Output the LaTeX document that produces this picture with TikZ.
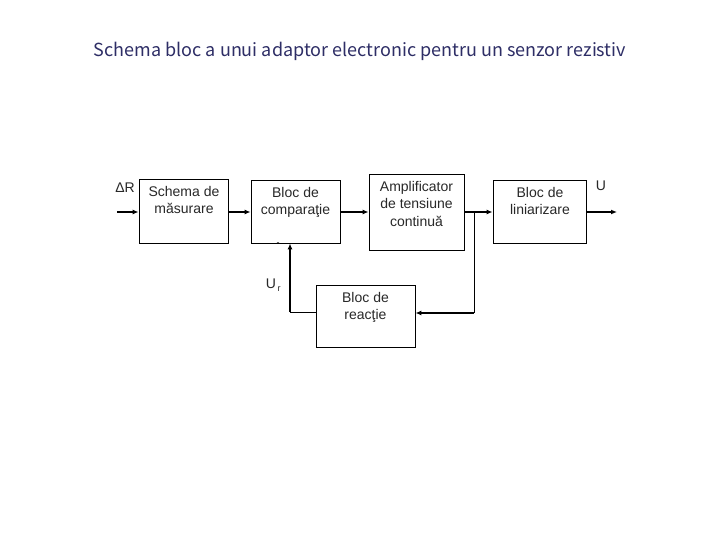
\documentclass[tikz,border=0pt]{standalone}
\usepackage{fontspec}
\setmainfont{Liberation Sans}
\newfontfamily\titlefont{Noto Sans CJK JP}
\usetikzlibrary{arrows.meta}
\definecolor{titleblue}{RGB}{46,46,102}
\definecolor{txtgray}{RGB}{40,40,40}
\tikzset{
  blk/.style={draw=black, line width=0.8pt, inner sep=0pt},
  lbl/.style={align=center, inner sep=0pt, text=txtgray, font=\fontsize{14}{17.5}\selectfont},
  wire/.style={line width=1.8pt},
  thin wire/.style={line width=1pt},
  arr/.style={wire, -{Latex[length=6pt,width=5pt]}},
}
\begin{document}
\begin{tikzpicture}[x=1pt,y=-1pt]
\useasboundingbox (0,0) rectangle (720,540);
\fill[white] (0,0) rectangle (720,540);
% title
\node[text=titleblue, font=\titlefont\fontsize{18}{21}\selectfont, inner sep=0pt] (title) at (360,51) {Schema bloc a unui adaptor electronic pentru un senzor rezistiv};
% boxes
\node[blk, minimum width=89pt, minimum height=64pt] (b1) at (183.5,211) {};
\node[blk, minimum width=89pt, minimum height=63pt] (b2) at (295.5,211.5) {};
\node[blk, minimum width=95pt, minimum height=76pt] (b3) at (416.5,212) {};
\node[blk, minimum width=93pt, minimum height=63pt] (b5) at (539.5,211.5) {};
\node[blk, minimum width=99pt, minimum height=62pt] (b4) at (365.5,316) {};
% box texts
\node[lbl, anchor=north] (t1) at (184,186) {Schema de\\măsurare};
\node[lbl, anchor=north] (t2) at (295.5,187) {Bloc de\\comparaţie};
\node[lbl, anchor=north] (t3) at (416.5,181) {Amplificator\\de tensiune\\continuă};
\node[lbl, anchor=north] (t5) at (540,187) {Bloc de\\liniarizare};
\node[lbl, anchor=north] (t4) at (365.5,292) {Bloc de\\reacţie};
% other labels
\node[lbl] (dr) at (125,188) {ΔR};
\node[lbl] (uo) at (601,186) {U};
\node[lbl] (ur) at (271,284) {U};
\node[lbl, font=\fontsize{9}{10}\selectfont] (urs) at (279,289) {r};
\node[lbl, font=\fontsize{9}{10}\selectfont] (minus) at (278,244) {-};
% coordinates
\coordinate (in) at (117,212);
\coordinate (out) at (617,212);
\coordinate (fb1) at (474,212);
\coordinate (fb2) at (474,313);
\coordinate (ur1) at (290,312);
% connectors
\draw[arr] (in) -- (b1.west |- in);
\draw[arr] (b1.east |- in) -- (b2.west |- in);
\draw[arr] (b2.east |- in) -- (b3.west |- in);
\draw[arr] (b3.east |- in) -- (b5.west |- in);
\draw[arr] (b5.east |- out) -- (out);
\draw[thin wire] (fb1) -- (fb2);
\draw[arr] (fb2) -- (b4.east |- fb2);
\draw[thin wire] (b4.west |- ur1) -- (ur1);
\draw[arr] (ur1) -- (ur1 |- b2.south);
\end{tikzpicture}
\end{document}
